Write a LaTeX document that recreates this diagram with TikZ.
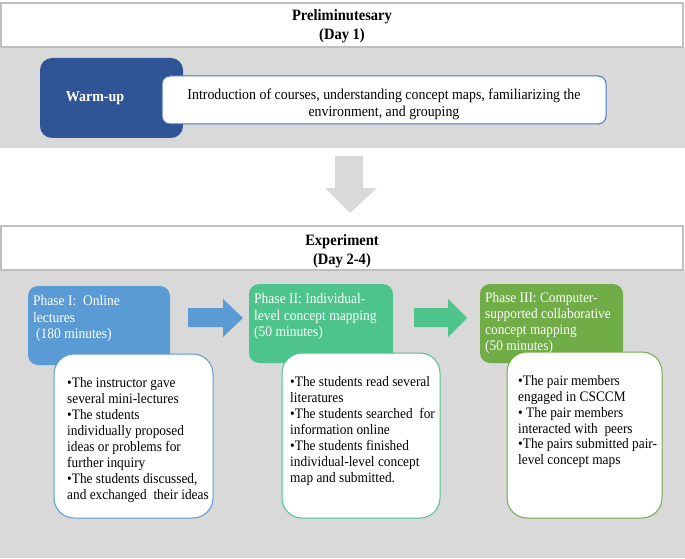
\documentclass[tikz,border=0pt]{standalone}
\usepackage{fontspec}
\setmainfont{Liberation Serif}[FakeStretch=0.92]
\begin{document}
\begin{tikzpicture}[x=1pt,y=-1pt]
\definecolor{graybg}{HTML}{D9D9D9}
\definecolor{hdrline}{HTML}{BFBFBF}
\definecolor{navy}{HTML}{2F5597}
\definecolor{introline}{HTML}{4472C4}
\definecolor{pblue}{HTML}{5B9BD5}
\definecolor{pmint}{HTML}{4DC48C}
\definecolor{pgreen}{HTML}{70AD47}
\tikzset{
  area/.style={fill=graybg, inner sep=0pt, outer sep=0pt},
  hdrbox/.style={fill=white, draw=hdrline, line width=1.5pt, inner sep=0pt},
  hdrtext/.style={align=center, inner sep=0pt, font=\bfseries\fontsize{15.8}{18.5}\selectfont},
  phasebox/.style={fill=#1, rounded corners=10pt, inner sep=0pt},
  listbox/.style={fill=white, draw=#1, line width=1pt, rounded corners=20pt, inner sep=0pt},
  phasetext/.style={anchor=north west, align=left, inner sep=0pt, text=white, font=\fontsize{14.7}{16.7}\selectfont},
  listtext/.style={anchor=north west, align=left, inner sep=0pt, font=\fontsize{14.5}{15.9}\selectfont},
}
\useasboundingbox (0,0) rectangle (685,559);
% ---- Preliminary section
\node[area, minimum width=685pt, minimum height=101pt] (bgA) at (342.5,97.5) {};
\node[hdrbox, minimum width=682pt, minimum height=44pt] (hdrA) at (342,25) {};
\node[hdrtext] (tA) at (342,26) {Preliminutesary\\(Day 1)};
\node[phasebox=navy, rounded corners=12pt, minimum width=143pt, minimum height=80pt] (warm) at (111.5,98) {};
\node[fill=white, draw=introline, line width=1pt, rounded corners=8pt, inner sep=0pt, minimum width=444pt, minimum height=48pt] (intro) at (384,100) {};
\node[text=white, inner sep=0pt, font=\bfseries\fontsize{15.2}{17}\selectfont] (twarm) at (95,98) {Warm-up};
\node[align=center, inner sep=0pt, font=\fontsize{15.1}{17}\selectfont] (tintro) at (384,104.5) {Introduction of courses, understanding concept maps, familiarizing the\\environment, and grouping};
% ---- down arrow
\fill[graybg] (335,156) -- (363,156) -- (363,188) -- (377,188) -- (350,213) -- (325,188) -- (335,188) -- cycle;
% ---- Experiment section
\node[area, minimum width=685pt, minimum height=288pt] (bgB) at (342.5,414) {};
\node[hdrbox, minimum width=682pt, minimum height=44pt] (hdrB) at (342,248) {};
\node[hdrtext] (tB) at (342,251) {Experiment\\(Day 2-4)};
% phase I
\node[phasebox=pblue, minimum width=142pt, minimum height=79pt] (p1) at (99,325.5) {};
\node[listbox=pblue, minimum width=159pt, minimum height=164pt] (w1) at (133.5,436) {};
\node[phasetext] (tp1) at (33,295) {Phase I:\ \ Online\\lectures\\\hspace{3pt}(180 minutes)};
\node[listtext] (tw1) at (67,377.5) {•The instructor gave\\several mini-lectures\\•The students\\individually proposed\\ideas or problems for\\further inquiry\\•The students discussed,\\and exchanged\ \ their ideas};
% phase II
\node[phasebox=pmint, minimum width=144pt, minimum height=79pt] (p2) at (321,323.5) {};
\node[listbox=pmint, minimum width=158pt, minimum height=165pt] (w2) at (361,435.5) {};
\node[phasetext] (tp2) at (254,293) {Phase II: Individual-\\level concept mapping\\(50 minutes)};
\node[listtext] (tw2) at (290,376.5) {•The students read several\\literatures\\•The students searched\ \ for\\information online\\•The students finished\\individual-level concept\\map and submitted.};
% phase III
\node[phasebox=pgreen, minimum width=143pt, minimum height=79pt] (p3) at (551.5,323.5) {};
\node[listbox=pgreen, minimum width=155pt, minimum height=166pt] (w3) at (584.5,435) {};
\node[phasetext, font=\fontsize{14.5}{16}\selectfont] (tp3) at (485,292) {Phase III: Computer-\\supported collaborative\\concept mapping\\(50 minutes)};
\node[listtext, font=\fontsize{14.5}{15.8}\selectfont] (tw3) at (518,375.5) {•The pair members\\engaged in CSCCM\\• The pair members\\interacted with\ \ peers\\•The pairs submitted pair-\\level concept maps};
% arrows between phases
\fill[pblue] (188,308) -- (223,308) -- (223,299) -- (243,318) -- (223,337) -- (223,327) -- (188,327) -- cycle;
\fill[pmint] (414,308) -- (448,308) -- (448,299) -- (467,318) -- (448,337) -- (448,327) -- (414,327) -- cycle;
\end{tikzpicture}
\end{document}
